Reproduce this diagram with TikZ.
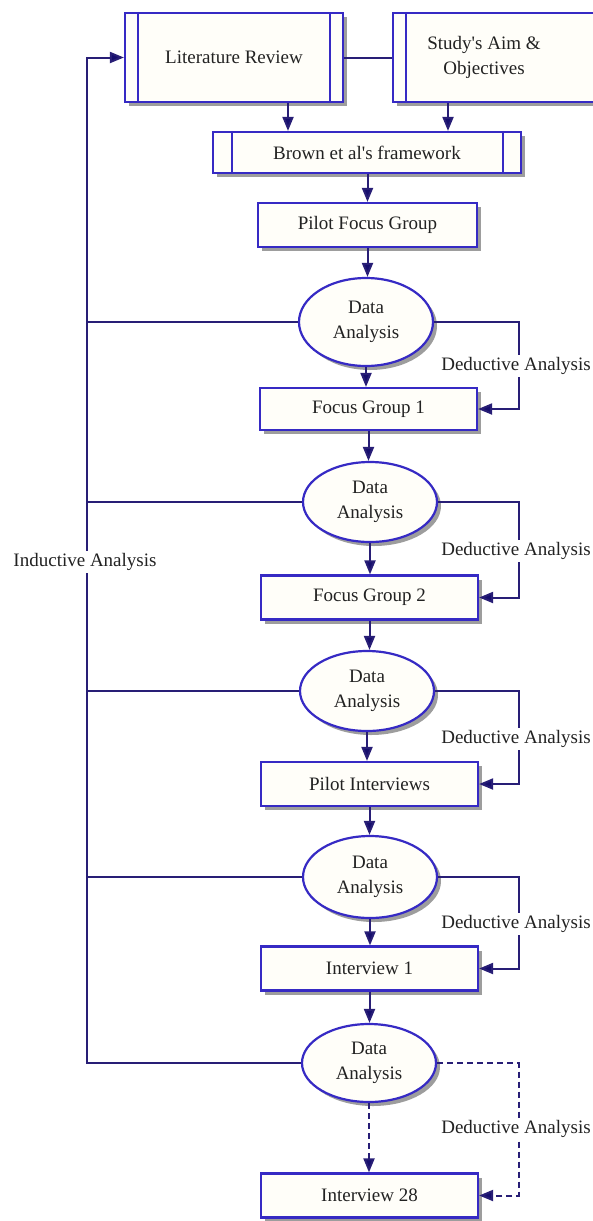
\documentclass[tikz,border=0pt]{standalone}
\usepackage{fontspec}
\setmainfont{Liberation Serif}[Ligatures=TeXOff]
\usetikzlibrary{shapes.geometric,shadows,calc,arrows.meta}
\definecolor{edgeblue}{RGB}{54,42,196}
\definecolor{linenavy}{RGB}{40,30,118}
\definecolor{tipnavy}{RGB}{22,14,110}
\definecolor{inkgray}{RGB}{34,34,34}
\definecolor{paper}{RGB}{255,254,249}
\begin{document}
\begin{tikzpicture}[x=1pt,y=-1pt,
  font=\fontsize{19}{25}\selectfont,
  base/.style={draw=edgeblue, line width=2.2pt, fill=paper, inner sep=0pt,
    align=center, text=inkgray,
    drop shadow={shadow xshift=4pt, shadow yshift=-4pt, fill=black!45, opacity=0.85}},
  stepbox/.style={base, rectangle, minimum width=217pt, minimum height=44pt},
  oval/.style={base, ellipse, minimum width=134pt, minimum height=80pt},
  link/.style={draw=linenavy, line width=2pt},
  flow/.style={link, -{Triangle[length=14pt,width=11pt,fill=tipnavy]}},
  dflow/.style={flow, dash pattern=on 6pt off 4pt},
  tag/.style={fill=white, inner sep=2pt, text=inkgray},
  bar/.style={draw=edgeblue, line width=2.2pt},
]
\clip (0,0) rectangle (593,1221);
\useasboundingbox (0,0) rectangle (593,1221);

% sources at the top
\node[stepbox, minimum width=218pt, minimum height=89pt] (lr) at (234,57.5) {Literature Review};
\node[stepbox, minimum width=207pt, minimum height=89pt,
  label={[align=center, text=inkgray, xshift=-12.5pt]center:Study's Aim \&\\Objectives}]
  (sa) at (496.5,57.5) {};
\node[stepbox, minimum width=308pt, minimum height=41pt] (brown) at (367,152.5) {Brown et al's framework};

% predefined-process side bars
\draw[bar] ($(lr.north west)+(14pt,0)$) -- ($(lr.south west)+(14pt,0)$);
\draw[bar] ($(lr.north east)+(-14pt,0)$) -- ($(lr.south east)+(-14pt,0)$);
\draw[bar] ($(sa.north west)+(14pt,0)$) -- ($(sa.south west)+(14pt,0)$);
\draw[bar] ($(brown.north west)+(20pt,0)$) -- ($(brown.south west)+(20pt,0)$);
\draw[bar] ($(brown.north east)+(-19pt,0)$) -- ($(brown.south east)+(-19pt,0)$);

% main column
\node[stepbox, minimum width=219pt] (pfg) at (367.5,225) {Pilot Focus Group};
\node[oval, minimum height=88pt] (da1) at (366,322) {Data\\Analysis};
\node[stepbox, minimum height=42pt] (fg1) at (368.5,409) {Focus Group 1};
\node[oval, minimum height=80pt] (da2) at (370,502) {Data\\Analysis};
\node[stepbox] (fg2) at (369.5,597.5) {Focus Group 2};
\node[oval, minimum height=80pt] (da3) at (367,691) {Data\\Analysis};
\node[stepbox] (pi) at (369.5,784) {Pilot Interviews};
\node[oval, minimum height=82pt] (da4) at (370,877) {Data\\Analysis};
\node[stepbox] (int1) at (369.5,968.5) {Interview 1};
\node[oval, minimum height=78pt] (da5) at (369,1063) {Data\\Analysis};
\node[stepbox] (int28) at (369.5,1195.5) {Interview 28};

% helper points
\coordinate (rail) at (87,0);
\coordinate (dcol) at (518.5,0);
\coordinate (lrdrop) at ($(lr.south)+(54pt,0)$);
\coordinate (sadrop) at ($(sa.south)+(-48.5pt,0)$);

% top connectors
\draw[link] (lr.east) -- (sa.west);
\draw[flow] (lrdrop) -- (lrdrop |- brown.north);
\draw[flow] (sadrop) -- (sadrop |- brown.north);
\draw[flow] (brown.south -| pfg.north) -- (pfg.north);

% downward flow
\draw[flow] (pfg.south) -- (pfg.south |- da1.north);
\draw[flow] (da1.south) -- (da1.south |- fg1.north);
\draw[flow] (fg1.south) -- (fg1.south |- da2.north);
\draw[flow] (da2.south) -- (da2.south |- fg2.north);
\draw[flow] (fg2.south) -- (fg2.south |- da3.north);
\draw[flow] (da3.south) -- (da3.south |- pi.north);
\draw[flow] (pi.south) -- (pi.south |- da4.north);
\draw[flow] (da4.south) -- (da4.south |- int1.north);
\draw[flow] (int1.south) -- (int1.south |- da5.north);
\draw[dflow] (da5.south) -- (da5.south |- int28.north);

% deductive loops on the right
\draw[flow] (da1.east) -- (da1.east -| dcol) |- (fg1.east);
\draw[flow] (da2.east) -- (da2.east -| dcol) |- (fg2.east);
\draw[flow] (da3.east) -- (da3.east -| dcol) |- (pi.east);
\draw[flow] (da4.east) -- (da4.east -| dcol) |- (int1.east);
\draw[dflow] (da5.east) -- (da5.east -| dcol) |- (int28.east);

\node[tag] (ded1) at (516,366) {Deductive Analysis};
\node[tag] (ded2) at (516,551) {Deductive Analysis};
\node[tag] (ded3) at (516,739) {Deductive Analysis};
\node[tag] (ded4) at (516,924) {Deductive Analysis};
\node[tag] (ded5) at (516,1129) {Deductive Analysis};

% inductive feedback rail on the left
\draw[flow] (da5.west) -- (da5.west -| rail) -- (lr.west -| rail) -- (lr.west);
\draw[link] (da1.west) -- (da1.west -| rail);
\draw[link] (da2.west) -- (da2.west -| rail);
\draw[link] (da3.west) -- (da3.west -| rail);
\draw[link] (da4.west) -- (da4.west -| rail);
\node[tag] (ind) at (85,562) {Inductive Analysis};
\end{tikzpicture}
\end{document}
